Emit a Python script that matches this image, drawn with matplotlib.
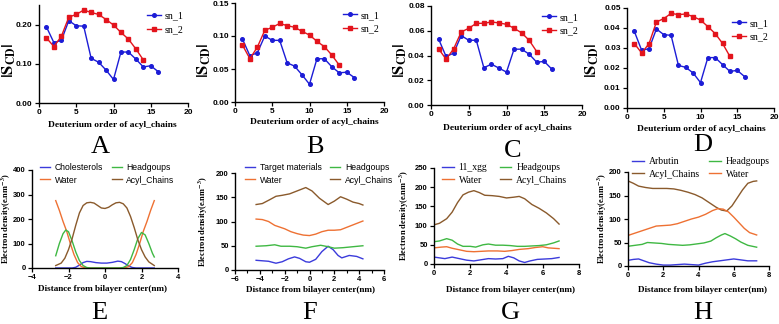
import matplotlib
matplotlib.use('Agg')
import matplotlib.pyplot as plt
from matplotlib.ticker import MultipleLocator, FormatStrFormatter

SERIF = 'Liberation Serif'
SANS = 'Liberation Sans'
plt.rcParams['mathtext.fontset'] = 'stix'
plt.rcParams['font.family'] = SANS
plt.rcParams['font.weight'] = 'bold'   # tick labels are bold like Prism

W, H = 779, 324

# ---------------- order parameter data (A-D) ----------------
carbons_sn1 = list(range(1, 17))
carbons_sn2 = list(range(1, 15))

A_sn1 = [0.194, 0.154, 0.160, 0.210, 0.197, 0.196, 0.114, 0.104, 0.084, 0.060,
         0.130, 0.130, 0.112, 0.092, 0.095, 0.080]
A_sn2 = [0.166, 0.144, 0.170, 0.219, 0.226, 0.237, 0.231, 0.226, 0.213, 0.199,
         0.180, 0.163, 0.138, 0.110]
B_sn1 = [0.0954, 0.0700, 0.0746, 0.1000, 0.0934, 0.0934, 0.0594, 0.0543, 0.0411, 0.0269,
         0.0655, 0.0655, 0.0533, 0.0442, 0.0452, 0.0371]
B_sn2 = [0.0863, 0.0655, 0.0832, 0.1086, 0.1132, 0.1190, 0.1157, 0.1132, 0.1070, 0.1015,
         0.0919, 0.0838, 0.0711, 0.0558]
C_sn1 = [0.0534, 0.0392, 0.0419, 0.0561, 0.0523, 0.0523, 0.0301, 0.0330, 0.0298, 0.0266,
         0.0451, 0.0451, 0.0411, 0.0346, 0.0352, 0.0290]
C_sn2 = [0.0454, 0.0370, 0.0454, 0.0590, 0.0620, 0.0660, 0.0660, 0.0671, 0.0663, 0.0652,
         0.0620, 0.0583, 0.0523, 0.0432]
D_sn1 = [0.0383, 0.0288, 0.0297, 0.0395, 0.0367, 0.0363, 0.0213, 0.0203, 0.0175, 0.0127,
         0.0252, 0.0252, 0.0217, 0.0183, 0.0188, 0.0157]
D_sn2 = [0.0322, 0.0275, 0.0322, 0.0430, 0.0447, 0.0473, 0.0467, 0.0470, 0.0457, 0.0440,
         0.0407, 0.0372, 0.0323, 0.0258]

# ---------------- electron density data (E-H) ----------------
E_chol_x = [-2.7, -1.8, -1.6, -1.4, -1.2, -1.0, -0.8, -0.5, -0.2, 0.1, 0.4, 0.7, 0.9, 1.1, 1.3, 1.5, 1.7, 2.7]
E_chol_y = [0, 0, 3, 12, 22, 27, 26, 22, 20, 20, 23, 28, 26, 18, 8, 2, 0, 0]
E_water_x = [-2.7, -2.5, -2.3, -2.1, -1.9, -1.7, -1.5, -1.3, -1.1, -0.9, 0.9, 1.1, 1.3, 1.5, 1.7, 1.9, 2.1, 2.3, 2.5, 2.7]
E_water_y = [275, 235, 190, 150, 100, 55, 22, 6, 1, 0, 0, 1, 6, 22, 55, 100, 150, 190, 235, 275]
E_head_x = [-2.7, -2.5, -2.3, -2.15, -2.0, -1.8, -1.6, -1.4, -1.2, -1.0, -0.8, 0.8, 1.0, 1.2, 1.4, 1.6, 1.8, 2.0, 2.2, 2.4, 2.6, 2.7]
E_head_y = [50, 100, 140, 155, 148, 110, 65, 30, 10, 2, 0, 0, 2, 10, 35, 75, 120, 145, 135, 100, 60, 45]
E_acyl_x = [-2.7, -2.4, -2.2, -2.0, -1.8, -1.6, -1.4, -1.2, -1.0, -0.8, -0.6, -0.4, -0.2, 0.0,
            0.2, 0.4, 0.6, 0.8, 1.0, 1.2, 1.4, 1.6, 1.8, 2.0, 2.2, 2.4, 2.7]
E_acyl_y = [10, 20, 40, 75, 120, 175, 225, 255, 266, 268, 265, 255, 245, 243,
            248, 258, 266, 268, 262, 245, 210, 165, 115, 75, 45, 25, 10]

F_target_x = [-4.3, -3.8, -3.3, -2.7, -2.2, -1.7, -1.2, -0.8, -0.3, 0.0, 0.5, 1.0, 1.5, 1.9, 2.3, 2.6, 3.2, 3.8, 4.3]
F_target_y = [20, 19, 18, 14, 17, 23, 27, 24, 17, 16, 22, 38, 49, 42, 30, 25, 30, 28, 23]
F_water_x = [-4.3, -3.8, -3.3, -2.8, -2.0, -1.5, -1.0, -0.5, 0.0, 0.5, 1.0, 1.5, 2.0, 2.5, 3.0, 3.5, 4.0, 4.3]
F_water_y = [105, 104, 100, 92, 85, 79, 75, 72, 71, 74, 79, 82, 82, 83, 88, 93, 98, 101]
F_head_x = [-4.3, -3.5, -2.8, -2.3, -1.6, -1.0, -0.3, 0.2, 0.9, 1.5, 2.0, 2.7, 3.5, 4.3]
F_head_y = [49, 50, 52, 49, 49, 48, 45, 48, 51, 48, 45, 46, 48, 50]
F_acyl_x = [-4.3, -3.8, -3.2, -2.7, -2.2, -1.6, -1.0, -0.3, 0.2, 0.8, 1.5, 2.0, 2.5, 3.0, 3.5, 4.0, 4.3]
F_acyl_y = [135, 137, 145, 152, 154, 157, 163, 170, 163, 148, 135, 142, 151, 146, 140, 137, 134]

G_xgg_x = [0.0, 0.3, 0.6, 1.0, 1.4, 1.8, 2.2, 2.6, 3.0, 3.4, 3.8, 4.1, 4.4, 4.7, 5.0, 5.3, 5.7, 6.1, 6.5, 6.9]
G_xgg_y = [18, 16, 14, 18, 14, 10, 8, 11, 14, 13, 14, 20, 16, 8, 4, 8, 12, 13, 14, 17]
G_water_x = [0.0, 0.4, 0.7, 1.0, 1.4, 1.8, 2.2, 2.6, 3.0, 3.5, 3.9, 4.3, 4.7, 5.2, 5.6, 6.0, 6.3, 6.6, 6.9]
G_water_y = [42, 44, 45, 41, 37, 33, 32, 33, 34, 34, 33, 35, 38, 40, 43, 45, 42, 41, 40]
G_head_x = [0.0, 0.3, 0.7, 1.0, 1.3, 1.6, 2.0, 2.3, 2.7, 3.0, 3.4, 3.8, 4.2, 4.6, 5.0, 5.4, 5.8, 6.2, 6.6, 6.9]
G_head_y = [58, 60, 66, 62, 52, 46, 46, 44, 50, 52, 49, 49, 48, 46, 46, 47, 48, 50, 55, 60]
G_acyl_x = [0.0, 0.3, 0.7, 1.0, 1.3, 1.6, 1.9, 2.2, 2.5, 2.8, 3.2, 3.6, 4.0, 4.4, 4.7, 5.0, 5.4, 5.8, 6.2, 6.6, 6.9]
G_acyl_y = [102, 106, 118, 135, 160, 180, 187, 191, 186, 179, 178, 176, 172, 174, 176, 170, 155, 145, 133, 118, 104]

H_arb_x = [0.0, 0.3, 0.6, 0.9, 1.2, 1.6, 2.0, 2.4, 2.8, 3.2, 3.6, 4.0, 4.4, 4.8, 5.2, 5.6, 6.0, 6.4, 6.8, 7.3]
H_arb_y = [12, 14, 15, 11, 7, 4, 2, 2, 3, 4, 3, 2, 6, 9, 11, 13, 15, 13, 11, 11]
H_acyl_x = [0.0, 0.3, 0.6, 1.0, 1.4, 1.8, 2.2, 2.6, 3.0, 3.4, 3.8, 4.2, 4.6, 5.0, 5.3, 5.6, 5.9, 6.2, 6.5, 6.8, 7.1, 7.3]
H_acyl_y = [181, 176, 170, 167, 165, 165, 165, 164, 161, 157, 152, 145, 135, 125, 119, 117, 128, 145, 162, 176, 180, 181]
H_head_x = [0.0, 0.4, 0.8, 1.1, 1.5, 1.9, 2.3, 2.7, 3.1, 3.5, 3.9, 4.3, 4.7, 5.0, 5.3, 5.5, 5.8, 6.1, 6.4, 6.8, 7.3]
H_head_y = [42, 44, 46, 50, 49, 48, 46, 45, 44, 45, 47, 49, 53, 60, 66, 69, 64, 58, 51, 44, 40]
H_water_x = [0.0, 0.4, 0.8, 1.2, 1.6, 2.0, 2.4, 2.8, 3.2, 3.6, 4.0, 4.4, 4.8, 5.1, 5.4, 5.7, 6.0, 6.3, 6.6, 6.9, 7.3]
H_water_y = [65, 70, 75, 80, 85, 86, 87, 90, 95, 100, 104, 110, 118, 122, 121, 115, 104, 92, 80, 71, 66]

# colours
BLUE = '#1c1cd6'
RED = '#e3141c'
C_BLUE = '#3b3bdb'
C_GREEN = '#3fb843'
C_ORANGE = '#ee7133'
C_BROWN = '#8a5a2c'

fig = plt.figure(figsize=(W / 100, H / 100), dpi=100)


def add_ax(l, r, t, b):
    return fig.add_axes([l / W, 1 - b / H, (r - l) / W, (b - t) / H])


def prism(ax, xlim, ylim, xstep, ystep, fmt=None, labelsize=6):
    for s in ['top', 'right']:
        ax.spines[s].set_visible(False)
    for s in ['left', 'bottom']:
        ax.spines[s].set_linewidth(1.0)
    ax.set_xlim(*xlim)
    ax.set_ylim(*ylim)
    ax.xaxis.set_major_locator(MultipleLocator(xstep))
    ax.yaxis.set_major_locator(MultipleLocator(ystep))
    ax.tick_params(direction='out', length=3, width=0.9, pad=1.5, labelsize=labelsize)
    if fmt:
        ax.yaxis.set_major_formatter(FormatStrFormatter(fmt))


def ftext(x, y, s, **kw):
    fig.text(x / W, 1 - y / H, s, ha='center', va='center', **kw)


# ---------------- top row ----------------
top_panels = [
    # name, sn1, sn2, (l, r, t, b), ylim top, ystep, ylabel x, xlabel xy, letter xy, legend xy
    ('A', A_sn1, A_sn2, (39, 188, 5, 103), 0.25, 0.10, 9, (112, 125), (100, 147), (147, 16)),
    ('B', B_sn1, B_sn2, (235, 384, 3, 102), 0.15, 0.05, 204, (314, 122), (315, 147), (343, 15)),
    ('C', C_sn1, C_sn2, (431, 582, 6, 105), 0.08, 0.02, 400, (507, 128), (513, 151), (542, 17)),
    ('D', D_sn1, D_sn2, (627, 774, 8, 108), 0.05, 0.01, 592, (701, 129), (703, 145), (732, 23)),
]

for name, sn1, sn2, box, ytop, ystep, ylx, xl, let, lg in top_panels:
    ax = add_ax(*box)
    ax.plot(carbons_sn1, sn1, color=BLUE, marker='o', markersize=2.6, linewidth=1.0, label='sn_1')
    ax.plot(carbons_sn2, sn2, color=RED, marker='s', markersize=2.6, linewidth=1.0, label='sn_2')
    prism(ax, (0, 20), (0, ytop), 5, ystep, '%.2f')
    ax.legend(loc='center left', bbox_to_anchor=(lg[0] / W, 1 - (lg[1] + 7) / H),
              bbox_transform=fig.transFigure, frameon=False, borderpad=0, borderaxespad=0,
              handlelength=1.4, handletextpad=0.4, labelspacing=0.45,
              prop={'family': SERIF, 'size': 7.2, 'weight': 'normal'})
    ftext(ylx, 60, r'$|\mathrm{S}_{\mathrm{CD}}|$', rotation=90, fontsize=12)
    ftext(xl[0], xl[1], 'Deuterium order of acyl_chains', family=SERIF, fontweight='bold', fontsize=6.8)
    ftext(let[0], let[1], name, family=SERIF, fontweight='normal', fontsize=19)

# ---------------- bottom row ----------------
bottom_panels = [
    ('E', [(E_chol_x, E_chol_y, C_BLUE, 'Cholesterols'), (E_water_x, E_water_y, C_ORANGE, 'Water'),
           (E_head_x, E_head_y, C_GREEN, 'Headgoups'), (E_acyl_x, E_acyl_y, C_BROWN, 'Acyl_Chains')],
     (32, 178, 170, 268), (-4, 4), 2, 400, 100, SANS, 6.2, 6, (102, 289), (99, 313), (40, 167), 1.0),
    ('F', [(F_target_x, F_target_y, C_BLUE, 'Target materials'), (F_water_x, F_water_y, C_ORANGE, 'Water'),
           (F_head_x, F_head_y, C_GREEN, 'Headgoups'), (F_acyl_x, F_acyl_y, C_BROWN, 'Acyl_Chains')],
     (235, 384, 173, 270), (-6, 6), 2, 200, 50, SANS, 6.2, 203, (310, 290), (310, 313), (245, 167), 1.0),
    ('G', [(G_xgg_x, G_xgg_y, C_BLUE, '11_xgg'), (G_water_x, G_water_y, C_ORANGE, 'Water'),
           (G_head_x, G_head_y, C_GREEN, 'Headgoups'), (G_acyl_x, G_acyl_y, C_BROWN, 'Acyl_Chains')],
     (434, 579, 168, 264), (0, 8), 2, 250, 50, SERIF, 7, 404, (510, 290), (510, 313), (442, 167), 1.3),
    ('H', [(H_arb_x, H_arb_y, C_BLUE, 'Arbutin'), (H_acyl_x, H_acyl_y, C_BROWN, 'Acyl_Chains'),
           (H_head_x, H_head_y, C_GREEN, 'Headgoups'), (H_water_x, H_water_y, C_ORANGE, 'Water')],
     (628, 769, 172, 266), (0, 8), 2, 200, 50, SERIF, 7, 602, (703, 290), (703, 313), (632, 161), 1.0),
]

for name, series, box, xlim, xstep, ytop, ystep, lfont, lsize, ylx, xl, let, lg, colsp in bottom_panels:
    ax = add_ax(*box)
    for xs, ys, col, lab in series:
        ax.plot(xs, ys, color=col, linewidth=1.0, label=lab)
    prism(ax, xlim, (0, ytop), xstep, ystep, labelsize=5.5)
    if name == 'F':
        ax.xaxis.set_minor_locator(MultipleLocator(1))
        ax.tick_params(which='minor', direction='out', length=2, width=0.8)
    ax.legend(loc='center left', bbox_to_anchor=(lg[0] / W, 1 - (lg[1] + 7) / H),
              bbox_transform=fig.transFigure, frameon=False, borderpad=0, borderaxespad=0,
              ncol=2, handlelength=1.2, handletextpad=0.5, labelspacing=0.35, columnspacing=colsp,
              prop={'family': lfont, 'size': lsize, 'weight': 'normal'})
    ftext(ylx, (box[2] + box[3]) / 2, r'Electron density(e.nm$^{\mathbf{-3}}$)', rotation=90,
          family=SERIF, fontweight='bold', fontsize=6.0)
    ftext(xl[0], xl[1], 'Distance from bilayer center(nm)', family=SERIF, fontweight='bold', fontsize=6.6)
    ftext(let[0], let[1], name, family=SERIF, fontweight='normal', fontsize=19)

fig.savefig('out.png', dpi=100)
